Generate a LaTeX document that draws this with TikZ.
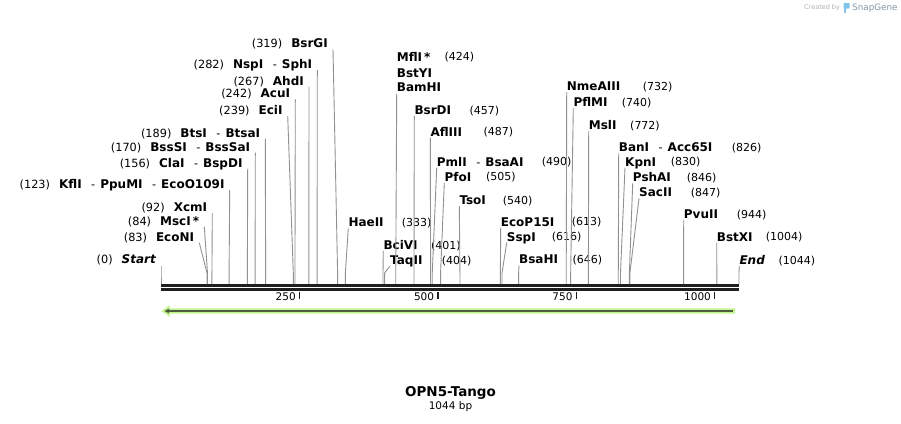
\documentclass[tikz,border=0pt]{standalone}
\usepackage{fontspec}
\setmainfont{DejaVu Sans}
\usetikzlibrary{arrows.meta,calc}

\definecolor{linegray}{RGB}{145,145,145}
\definecolor{seqblack}{RGB}{30,30,30}
\definecolor{featgreen}{RGB}{192,245,140}
\definecolor{featdark}{RGB}{78,92,66}
\definecolor{logogray}{RGB}{175,175,175}
\definecolor{logoblue}{RGB}{125,195,235}
\definecolor{logotext}{RGB}{130,150,165}

% enzyme name and the separator between names of one site
\newcommand{\enz}[1]{{\fontsize{12}{14}\selectfont\bfseries #1}}
\newcommand{\dsh}{\hspace{9.5pt}-\hspace{5pt}}

\begin{document}
\begin{tikzpicture}[
    x=1pt, y=-1pt,
    % text styles
    every node/.style={inner sep=0pt, font=\fontsize{11.3}{13}\selectfont},
    bpnum/.style={anchor=base west, font=\fontsize{11}{13}\selectfont},
    ticklbl/.style={anchor=base east, font=\fontsize{10.5}{12}\selectfont},
    % line styles
    siteline/.style={draw=linegray, line width=0.9pt},
    seqline/.style={draw=seqblack, line width=2.7pt},
    tickmark/.style={draw=seqblack, line width=1.4pt}
]
\useasboundingbox (0,0) rectangle (901,423);

% ==================== SEQUENCE AXIS ====================
\coordinate (seqA) at (161,285.35);
\coordinate (seqB) at (739,285.35);
\coordinate (seqC) at (161,289.35);
\coordinate (seqD) at (739,289.35);
\draw[seqline] (seqA) -- (seqB);
\draw[seqline] (seqC) -- (seqD);

% ticks
\foreach \t in {250,500,750,1000} {
    \pgfmathsetmacro\xk{161+0.5536*\t}
    \coordinate (tk\t) at (\xk,291.5);
    \draw[tickmark] (tk\t) -- ++(0,7);
    \node[ticklbl] (tl\t) at ($(tk\t)+(-3.5,8.5)$) {\t};
}

% ==================== SITES LEFT OF THEIR LINE ====================
\foreach \nm/\loc/\xt/\yc/\txt in {
    Start/0/161/259.5/{\enz{\itshape Start}},
    EcoNI/83/199.3/236.7/{\enz{EcoNI}},
    MscI/84/204.3/220.7/{\enz{MscI\,*}},
    XcmI/92/212.3/207.3/{\enz{XcmI}},
    KflI/123/229.7/184/{\enz{KflI}\dsh\enz{PpuMI}\dsh\enz{EcoO109I}},
    ClaI/156/247.7/162.7/{\enz{ClaI}\dsh\enz{BspDI}},
    BssSI/170/255.3/146.7/{\enz{BssSI}\dsh\enz{BssSaI}},
    BtsI/189/265.3/132.7/{\enz{BtsI}\dsh\enz{BtsaI}},
    EciI/239/287.7/110/{\enz{EciI}},
    AcuI/242/295.3/93.3/{\enz{AcuI}},
    AhdI/267/309/80.7/{\enz{AhdI}},
    NspI/282/317.3/64/{\enz{NspI}\dsh\enz{SphI}},
    BsrGI/319/333/43.3/{\enz{BsrGI}}}
{
    \pgfmathsetmacro\xs{161+0.5536*\loc}
    \coordinate (s\nm) at (\xs,284);
    \coordinate (b\nm) at (\xs,273);
    \coordinate (t\nm) at (\xt,\yc+6);
    \node[anchor=base east] (lb\nm) at ($(t\nm)+(-5,-1.6)$) {(\loc)\hspace{9pt}\txt};
    \draw[siteline] (t\nm) -- (b\nm) -- (s\nm);
}

% ==================== SITES RIGHT OF THEIR LINE ====================
\foreach \nm/\loc/\xt/\yc/\txt/\nx in {
    HaeII/333/348.3/222.3/{\enz{HaeII}}/401.7,
    BciVI/401/383.3/245/{\enz{BciVI}}/431,
    TaqII/404/390/260/{\enz{TaqII}}/441.7,
    BsrDI/457/414.3/110/{\enz{BsrDI}}/469.3,
    AflIII/487/430.3/131.7/{\enz{AflIII}}/483.3,
    PmlI/490/436.7/161.7/{\enz{PmlI}\dsh\enz{BsaAI}}/541.7,
    PfoI/505/444.3/176.7/{\enz{PfoI}}/486,
    TsoI/540/459.3/200/{\enz{TsoI}}/502.7,
    EcoP15I/613/500.7/221.7/{\enz{EcoP15I}}/571.7,
    SspI/616/506.7/236.7/{\enz{SspI}}/551.7,
    BsaHI/646/519/259.3/{\enz{BsaHI}}/572.3,
    NmeAIII/732/566.7/86/{\enz{NmeAIII}}/642.7,
    PflMI/740/573.3/102.3/{\enz{PflMI}}/621.7,
    MslI/772/588.7/125/{\enz{MslI}}/630,
    BanI/826/618.7/147.3/{\enz{BanI}\dsh\enz{Acc65I}}/731.7,
    KpnI/830/625/161.7/{\enz{KpnI}}/670.7,
    PshAI/846/632.7/177.3/{\enz{PshAI}}/686.7,
    SacII/847/639/192.3/{\enz{SacII}}/690.7,
    PvuII/944/683.7/214/{\enz{PvuII}}/736.7,
    BstXI/1004/716.7/236.7/{\enz{BstXI}}/765.7,
    End/1044/739.3/260/{\enz{\itshape End}}/778.3}
{
    \pgfmathsetmacro\xs{161+0.5536*\loc}
    \coordinate (s\nm) at (\xs,284);
    \coordinate (b\nm) at (\xs,273);
    \coordinate (t\nm) at (\xt,\yc+6);
    \node[anchor=base west] (lb\nm) at ($(t\nm)+(0,-1.6)$) {\txt};
    \node[bpnum] (nb\nm) at (\nx,\yc+4) {(\loc)};
    \draw[siteline] (t\nm) -- (b\nm) -- (s\nm);
}

% three enzymes sharing one site
\node[anchor=base west] (lbMflI) at (396.7,61.1) {\enz{MflI\,*}};
\node[anchor=base west] (lbBstYI) at (396.7,77.1) {\enz{BstYI}};
\node[anchor=base west] (lbBamHI) at (396.7,91.1) {\enz{BamHI}};
\node[bpnum] (nbMflI) at (444.3,60.7) {(424)};
\coordinate (sBamHI) at (395.7,284);
\coordinate (tBamHI) at (396.7,93.5);
\draw[siteline] (tBamHI) -- (sBamHI);

% ==================== FEATURE ARROW ====================
\coordinate (fTip) at (161.5,311);
\coordinate (fEnd) at (735,311);
\fill[featgreen] (fTip) -- (169.5,305.3) -- (169.5,308.3) -- (735,308.3)
    -- (735,313.7) -- (169.5,313.7) -- (169.5,316.7) -- cycle;
\draw[featdark, line width=1.8pt, -{Stealth[length=5pt,width=5pt]}]
    ($(fEnd)+(-2,0)$) -- ($(fTip)+(3,0)$);

% ==================== TITLE ====================
\node[anchor=base, font=\fontsize{13.5}{16}\selectfont\bfseries] (title) at (450.5,396.5) {OPN5-Tango};
\node[anchor=base, font=\fontsize{10.5}{12}\selectfont] (len) at (450.5,409) {1044 bp};

% ==================== LOGO ====================
\node[anchor=base west, text=logogray, font=\fontsize{6.5}{8}\selectfont] (made) at (804,9.3) {Created by};
\fill[logoblue, rounded corners=1pt] (843.5,3) rectangle (849.5,8.5);
\fill[logoblue] (843.5,3) rectangle (846,13);
\node[anchor=base west, text=logotext, font=\fontsize{8.8}{10}\selectfont] (brand) at (852,10.2) {SnapGene};
\end{tikzpicture}
\end{document}
